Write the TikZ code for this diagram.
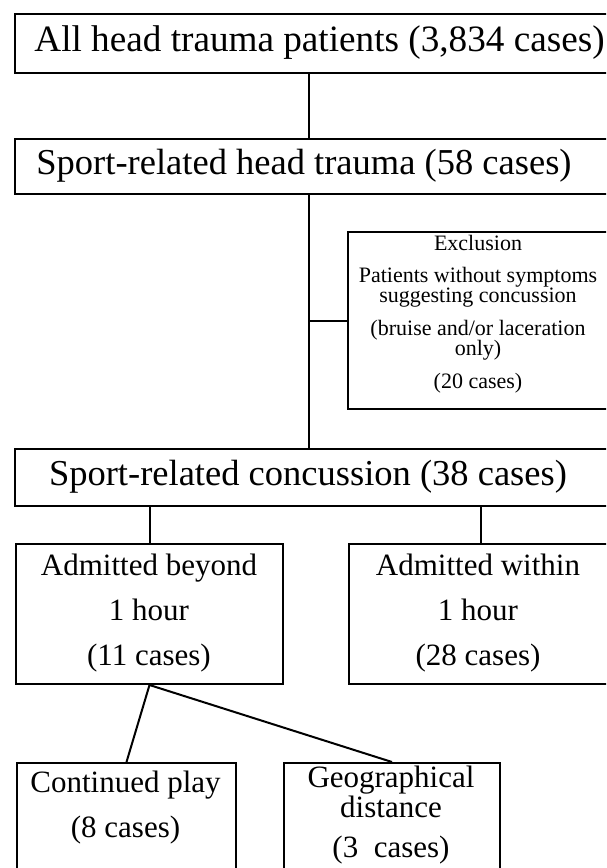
\documentclass[tikz,border=0pt]{standalone}
\usepackage{fontspec}
\setmainfont{Liberation Serif}
\begin{document}
\begin{tikzpicture}[x=1pt,y=-1pt,
  box/.style={draw=black, line width=2pt, rectangle, inner sep=0pt, anchor=north west},
  conn/.style={draw=black, line width=2pt},
  bigtxt/.style={inner sep=0pt, font=\fontsize{36.5}{40}\selectfont},
  midtxt/.style={inner sep=0pt, align=center, font=\fontsize{31}{45}\selectfont},
  smalltxt/.style={inner sep=0pt, align=center, font=\fontsize{22}{20}\selectfont}]
\useasboundingbox (0,0) rectangle (606,868);
\fill[white] (0,0) rectangle (606,868);
\begin{scope}
\clip (0,0) rectangle (606,868);
% boxes
\node[box, minimum width=600pt, minimum height=59pt] (all) at (14,13) {};
\node[box, minimum width=600pt, minimum height=55pt] (sport) at (14,138) {};
\node[box, minimum width=265pt, minimum height=177pt] (excl) at (347,231) {};
\node[box, minimum width=600pt, minimum height=57pt] (conc) at (14,448) {};
\node[box, minimum width=267pt, minimum height=140pt] (beyond) at (15,543) {};
\node[box, minimum width=264pt, minimum height=140pt] (within) at (348,543) {};
\node[box, minimum width=219pt, minimum height=130pt] (play) at (16,762) {};
\node[box, minimum width=216pt, minimum height=130pt] (geo) at (283,762) {};
% texts
\node[bigtxt, font=\fontsize{37.2}{40}\selectfont] (allT) at (319.5,42.5) {All head trauma patients (3,834 cases)};
\node[bigtxt] (sportT) at (304,165.5) {Sport-related head trauma (58 cases)};
\node[smalltxt] (exclT) at (478,314.5) {Exclusion\\[12pt]Patients without symptoms\\suggesting concussion\\[12pt](bruise and/or laceration\\only)\\[12pt](20 cases)};
\node[bigtxt] (concT) at (308,476.5) {Sport-related concussion (38 cases)};
\node[midtxt] (beyondT) at (149,613.5) {Admitted beyond\\1 hour\\(11 cases)};
\node[midtxt] (withinT) at (478,613.5) {Admitted within\\1 hour\\(28 cases)};
\node[midtxt] (playT) at (125.5,808) {Continued play\\(8 cases)};
\node[midtxt, font=\fontsize{31}{30}\selectfont] (geoT) at (391,815.5) {Geographical\\distance\\[10pt](3~~cases)};
% connectors
\coordinate (spine) at (309,0);
\draw[conn] (all.south -| spine) -- (sport.north -| spine);
\draw[conn] (sport.south -| spine) -- (conc.north -| spine);
\draw[conn] (spine |- excl.west) -- (excl.west);
\draw[conn] (conc.south -| beyond.north) -- (beyond.north);
\draw[conn] (conc.south -| within.north) -- (within.north);
\draw[conn] (beyond.south) -- (play.north);
\draw[conn] (beyond.south) -- (geo.north);
\end{scope}
\end{tikzpicture}
\end{document}
